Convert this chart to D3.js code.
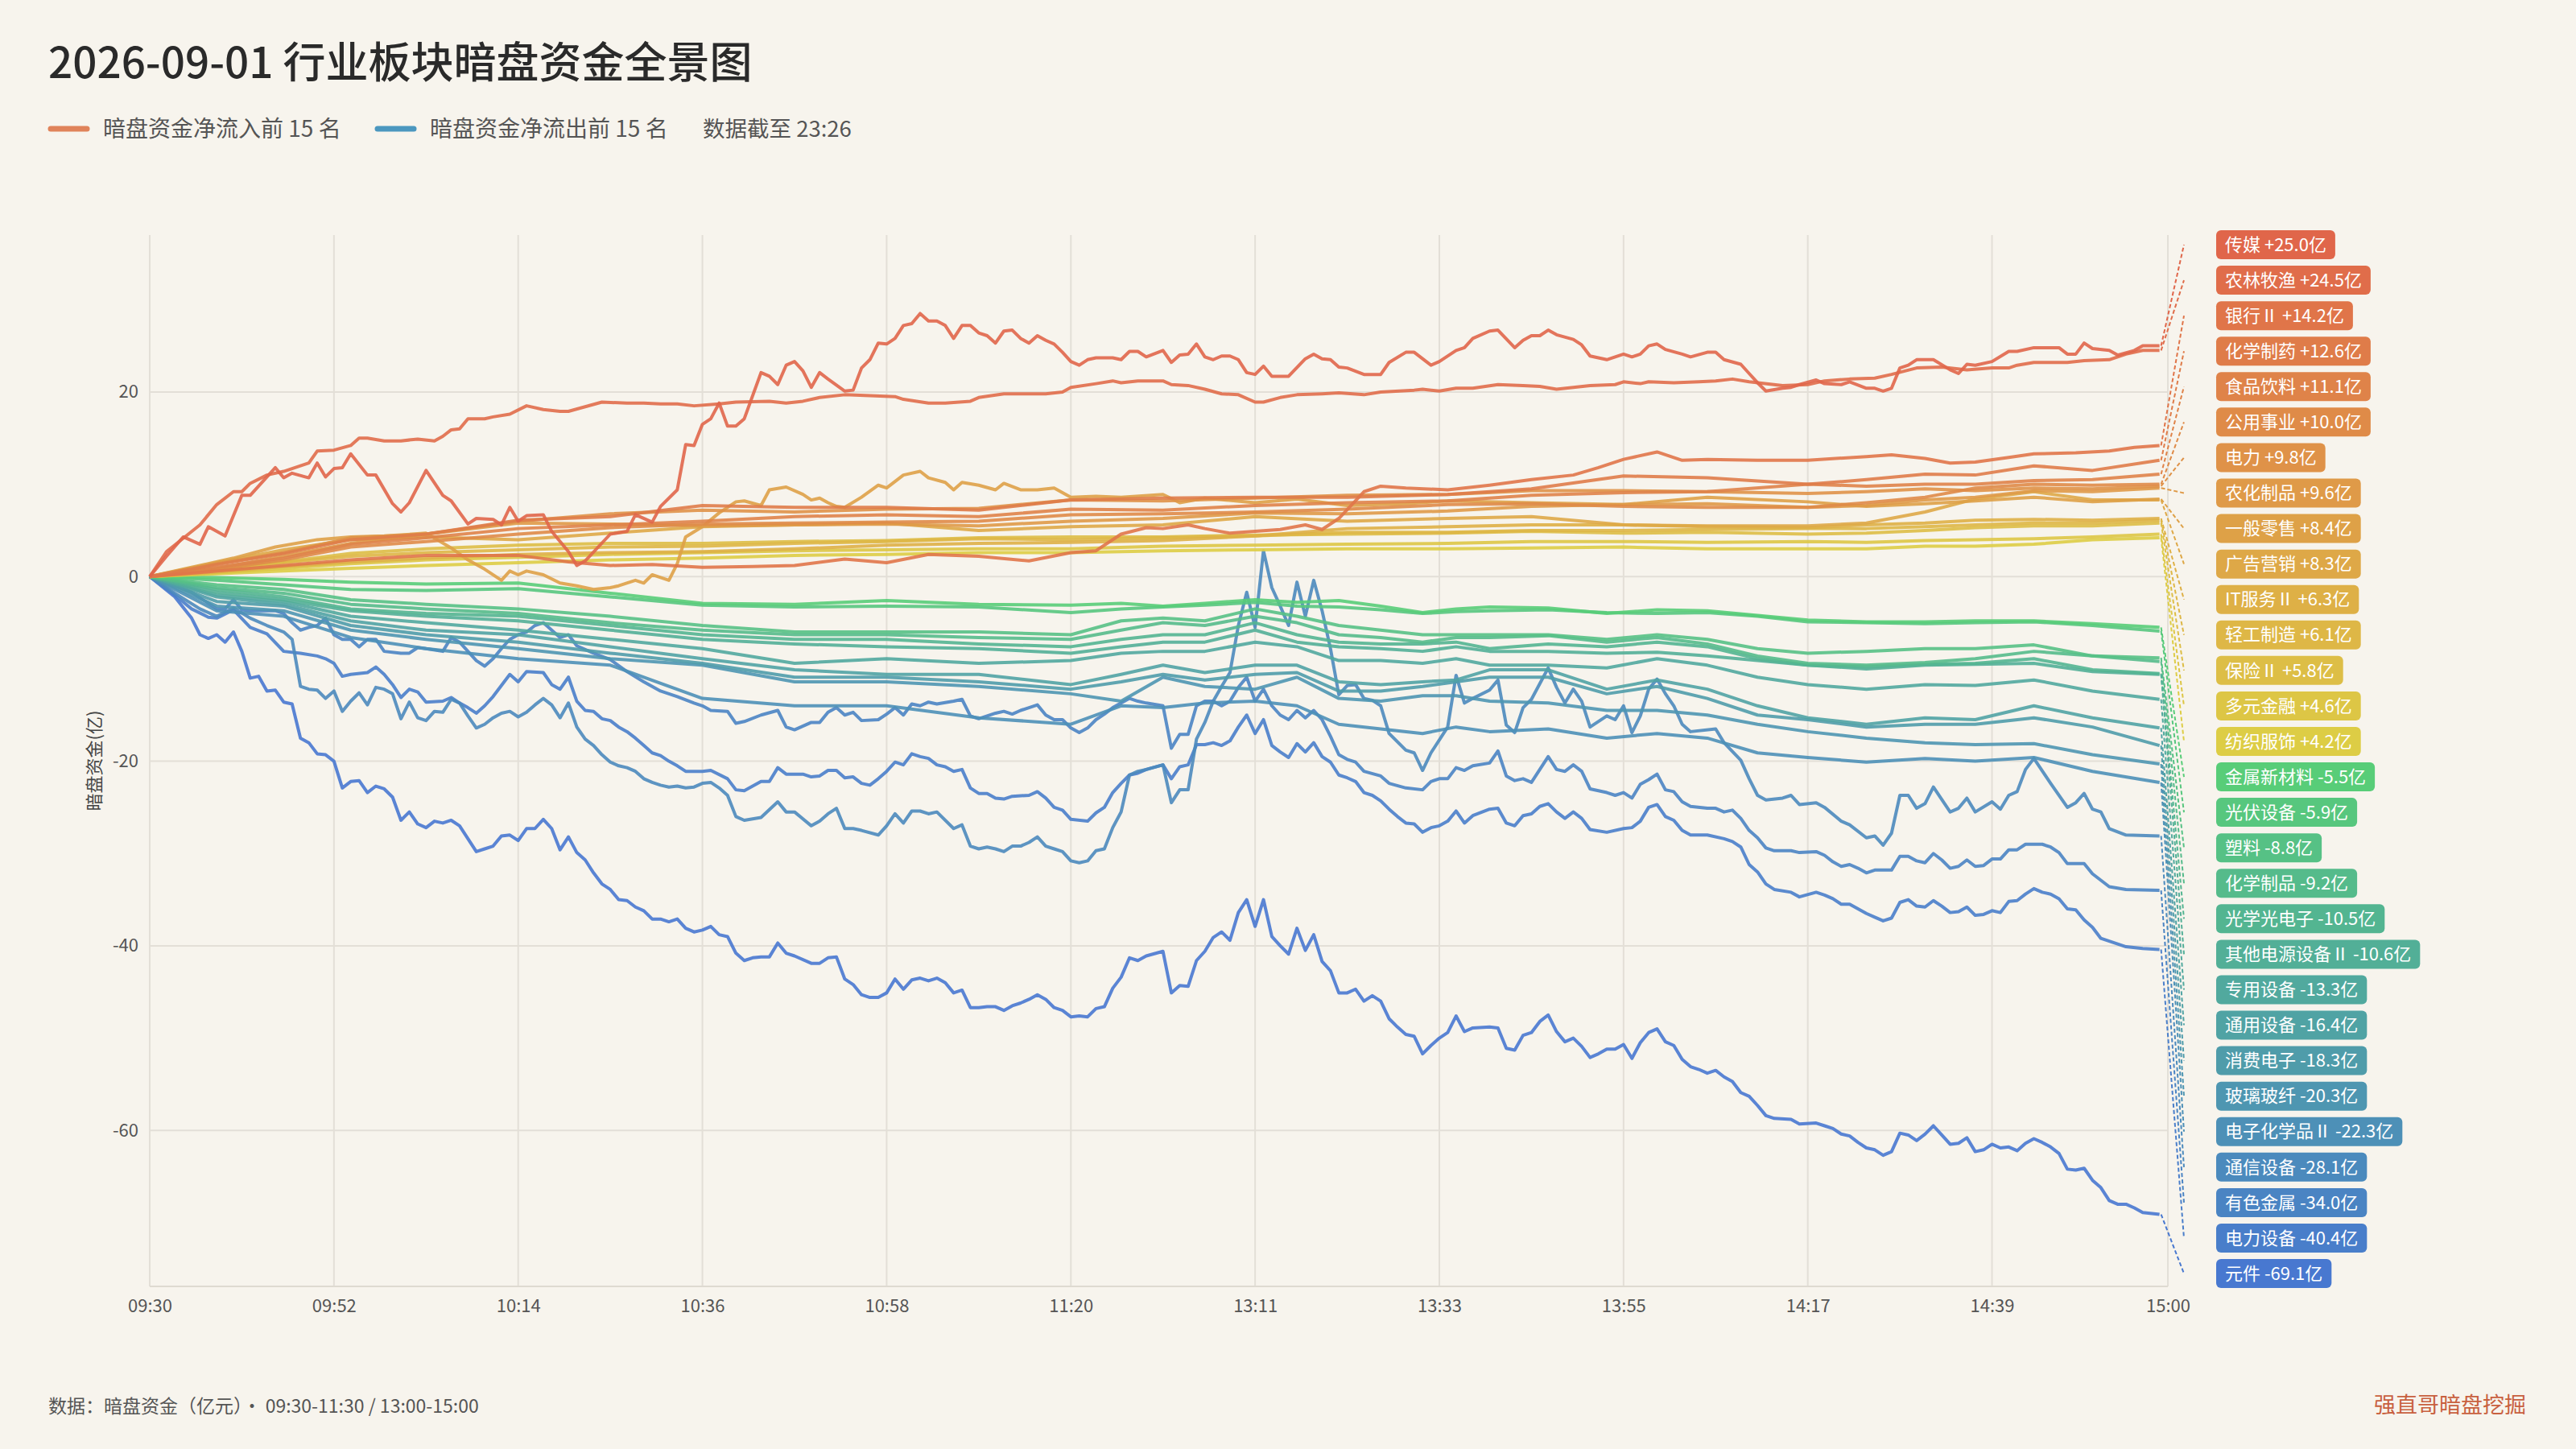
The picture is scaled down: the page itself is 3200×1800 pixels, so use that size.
<!DOCTYPE html>
<html>
<head>
<meta charset="utf-8">
<script src="https://cdn.jsdelivr.net/npm/d3@7"></script>
<style>
html, body { margin: 0; padding: 0; background: #f7f4ed; }
svg { display: block; font-family: "Noto Sans CJK SC", "Noto Sans", sans-serif; }
</style>
</head>
<body>
<svg id="chart" width="3200" height="1800"></svg>
<script>
// ---- data ----
const sectors = ["传媒","农林牧渔","银行Ⅱ","化学制药","食品饮料","公用事业","电力","农化制品","一般零售","广告营销","IT服务Ⅱ","轻工制造","保险Ⅱ","多元金融","纺织服饰",
  "金属新材料","光伏设备","塑料","化学制品","光学光电子","其他电源设备Ⅱ","专用设备","通用设备","消费电子","玻璃玻纤","电子化学品Ⅱ","通信设备","有色金属","电力设备","元件"];
const finalValues = [25.0,24.5,14.2,12.6,11.1,10.0,9.8,9.6,8.4,8.3,6.3,6.1,5.8,4.6,4.2,
  -5.5,-5.9,-8.8,-9.2,-10.5,-10.6,-13.3,-16.4,-18.3,-20.3,-22.3,-28.1,-34.0,-40.4,-69.1];

const sessions = [["09:30","11:30"],["13:00","15:00"]];
const xTickIdx = [0,22,44,66,88,110,132,154,176,198,220,241];
const yTicks = [-60,-40,-20,0,20];

// series read minute-by-minute where the line is distinctive: [minute index, 亿]
const detailSeries = [
["传媒", [[0,0],[2,2.2],[4,4.3],[6,3.5],[7,5.4],[9,4.4],[11,8.8],[12,8.8],[15,11.8],[16,10.7],[17,11.2],[19,10.7],[20,12.3],[21,10.8],[22,11.7],[23,11.8],[24,13.3],[26,11.0],[27,11.0],[29,7.9],[30,7.0],[31,8.0],[33,11.5],[35,8.8],[36,8.2],[38,5.7],[39,6.3],[41,6.2],[42,5.6],[43,7.5],[44,6.0],[45,6.6],[47,6.7],[48,4.9],[50,2.7],[51,1.2],[52,1.7],[55,4.6],[57,4.9],[58,6.7],[60,5.9],[61,7.6],[63,9.4],[64,14.3],[65,14.2],[66,16.5],[67,17.1],[68,18.8],[69,16.3],[70,16.3],[71,17.1],[73,22.1],[74,21.7],[75,20.8],[76,22.9],[77,23.3],[78,22.3],[79,20.5],[80,22.1],[81,21.4],[83,20.1],[84,20.2],[85,22.6],[86,23.5],[87,25.3],[88,25.2],[89,25.8],[90,27.2],[91,27.4],[92,28.5],[93,27.7],[94,27.7],[95,27.2],[96,25.8],[97,27.2],[98,27.2],[99,26.4],[100,26.1],[101,25.3],[102,26.6],[103,26.7],[104,25.8],[105,25.3],[106,26.1],[107,25.6],[108,25.2],[109,24.3],[110,23.3],[111,22.9],[112,23.5],[113,23.7],[115,23.7],[116,23.5],[117,24.4],[118,24.4],[119,23.8],[121,24.5],[122,23.2],[123,24.0],[124,24.1],[125,25.2],[126,23.8],[127,23.5],[128,23.9],[129,23.9],[130,23.5],[131,22.1],[132,21.9],[133,22.8],[134,21.7],[136,21.7],[138,23.6],[139,24.1],[140,23.6],[141,23.5],[142,22.7],[143,22.6],[145,21.9],[147,21.9],[148,23.2],[150,24.3],[151,24.3],[153,22.9],[154,23.3],[156,24.5],[157,24.8],[158,25.8],[160,26.6],[161,26.7],[163,24.8],[164,25.6],[165,26.1],[166,26.1],[167,26.7],[168,26.2],[170,25.7],[171,25.1],[172,23.9],[174,23.5],[176,24.1],[177,23.8],[178,24.1],[179,25.0],[180,25.2],[181,24.6],[183,24.1],[184,23.8],[186,24.3],[187,24.3],[188,23.5],[190,23.0],[191,22.0],[192,21.0],[193,20.1],[195,20.4],[196,20.5],[197,20.8],[199,21.3],[200,20.9],[202,20.8],[203,21.1],[205,20.4],[206,20.4],[207,20.1],[208,20.4],[209,22.6],[210,22.9],[211,23.5],[213,23.5],[215,22.4],[216,22.0],[217,23.0],[218,22.9],[220,23.3],[222,24.4],[223,24.4],[225,24.8],[228,24.8],[229,24.1],[230,24.1],[231,25.3],[232,24.7],[234,24.5],[235,24.0],[237,24.5],[238,25.0],[240,25.0]]],
["农林牧渔", [[0,0],[2,2.7],[6,5.6],[8,7.8],[10,9.2],[11,9.2],[12,10.1],[14,11.0],[16,11.4],[19,12.3],[20,13.6],[22,13.7],[24,14.2],[25,15.0],[26,15.0],[28,14.7],[30,14.7],[32,14.9],[34,14.7],[35,15.2],[36,15.9],[37,16.0],[38,17.1],[40,17.1],[41,17.3],[43,17.6],[45,18.5],[47,18.1],[49,17.9],[50,17.9],[52,18.4],[54,18.9],[57,18.8],[59,18.8],[61,18.7],[63,18.7],[65,18.5],[68,18.7],[70,18.9],[74,19.0],[76,18.8],[78,19.0],[80,19.4],[83,19.7],[86,19.6],[89,19.5],[90,19.2],[93,18.8],[95,18.8],[98,19.0],[99,19.4],[102,19.8],[104,19.8],[107,19.8],[109,20.0],[110,20.5],[113,20.9],[115,21.2],[116,21.0],[118,21.2],[121,21.2],[122,20.8],[124,20.7],[126,20.3],[128,19.8],[130,19.7],[132,18.9],[133,18.9],[135,19.4],[137,19.7],[140,19.8],[142,19.9],[145,19.7],[147,20.0],[151,20.2],[152,20.3],[154,20.1],[156,20.4],[158,20.4],[161,20.8],[164,20.7],[166,20.6],[168,20.3],[170,20.5],[172,20.7],[175,20.8],[176,21.1],[178,20.9],[179,21.1],[182,21.0],[185,21.1],[187,21.2],[189,21.4],[191,21.1],[195,20.7],[198,20.8],[200,21.2],[203,21.4],[206,21.5],[208,21.9],[211,22.6],[214,22.7],[217,22.4],[220,22.6],[222,22.6],[223,22.9],[225,23.2],[229,23.2],[231,23.4],[234,23.5],[236,24.1],[238,24.5],[240,24.5]]],
["银行Ⅱ", [[0,0],[8,0.6],[16,1.2],[24,1.8],[33,2.3],[44,2.3],[50,1.6],[55,1.2],[60,1.3],[66,1.0],[72,1.1],[77,1.2],[83,1.9],[88,1.5],[93,2.4],[99,2.2],[105,1.7],[110,2.6],[113,2.8],[116,4.6],[119,5.3],[121,5.2],[124,5.6],[126,5.2],[129,4.7],[132,4.9],[135,5.1],[138,5.6],[140,5.1],[142,6.3],[145,9.2],[147,9.8],[150,9.6],[155,9.4],[160,9.9],[165,10.5],[170,11.0],[173,11.8],[176,12.7],[180,13.5],[183,12.6],[186,12.7],[192,12.6],[198,12.6],[205,13.0],[208,13.2],[212,12.8],[215,12.3],[218,12.4],[222,12.9],[225,13.3],[230,13.4],[234,13.6],[237,14.0],[240,14.2]]],
["一般零售", [[0,0],[5,1.0],[10,2.0],[15,3.2],[20,4.0],[24,4.3],[28,4.4],[33,4.7],[36,3.1],[38,1.8],[40,0.8],[42,-0.4],[43,0.6],[44,0.2],[45,0.6],[47,0.2],[49,-0.7],[51,-1.0],[53,-1.4],[55,-1.2],[56,-1.0],[58,-0.4],[59,-0.7],[60,0.2],[62,-0.4],[63,1.4],[64,4.3],[66,5.4],[68,6.9],[70,8.1],[71,8.2],[73,7.7],[74,9.4],[76,9.7],[78,8.9],[79,8.3],[80,8.5],[81,8.0],[82,7.6],[83,7.5],[85,8.6],[87,9.9],[88,9.6],[90,11.0],[92,11.4],[93,10.7],[95,10.2],[96,9.4],[97,10.2],[99,9.9],[101,9.4],[102,10.1],[104,9.4],[106,9.4],[108,9.6],[110,8.6],[113,8.7],[116,8.6],[121,8.9],[123,8.0],[126,8.5],[132,8.0],[137,8.4],[143,7.7],[150,7.9],[155,8.2],[165,8.0],[176,7.8],[186,8.6],[198,8.1],[205,7.6],[212,7.9],[218,8.2],[225,8.6],[232,8.1],[240,8.4]]],
["通信设备", [[0,0],[3,-1.8],[6,-3.5],[8,-4.3],[10,-3.4],[12,-4.5],[14,-5.3],[16,-6.0],[17,-6.8],[18,-11.9],[19,-12.2],[20,-12.3],[21,-13.2],[22,-12.4],[23,-14.6],[24,-13.5],[25,-12.6],[26,-13.9],[27,-12.0],[28,-12.2],[29,-12.7],[30,-15.4],[31,-13.6],[32,-15.3],[33,-15.6],[34,-14.6],[35,-14.7],[36,-13.3],[37,-13.7],[38,-15.1],[39,-16.4],[40,-16.0],[41,-15.3],[42,-14.8],[43,-14.6],[44,-15.2],[45,-14.7],[46,-13.9],[47,-13.2],[48,-13.9],[49,-15.3],[50,-13.7],[51,-16.3],[52,-17.6],[53,-18.3],[54,-19.3],[55,-20.1],[56,-20.5],[57,-20.7],[58,-21.1],[59,-21.9],[60,-22.3],[61,-22.6],[62,-22.8],[63,-22.7],[64,-22.9],[65,-22.8],[66,-22.4],[67,-22.3],[68,-22.9],[69,-23.7],[70,-26.0],[71,-26.4],[73,-26.1],[75,-24.4],[76,-25.5],[77,-25.5],[79,-27.0],[80,-26.5],[81,-25.7],[82,-25.1],[83,-27.3],[84,-27.3],[85,-27.5],[87,-28.0],[88,-27.0],[89,-25.7],[90,-26.7],[91,-25.4],[92,-25.4],[93,-25.7],[94,-25.5],[96,-27.3],[97,-26.9],[98,-29.2],[99,-29.5],[100,-29.3],[101,-29.5],[102,-29.8],[103,-29.2],[104,-29.2],[105,-28.8],[106,-28.2],[107,-29.2],[108,-29.5],[109,-29.8],[110,-30.8],[111,-31.0],[112,-30.8],[113,-29.7],[114,-29.5],[115,-27.2],[116,-25.5],[117,-21.5],[118,-21.1],[119,-20.9],[121,-20.4],[122,-24.5],[123,-23.1],[124,-23.1],[125,-17.6],[126,-15.8],[127,-13.5],[128,-11.9],[129,-10.4],[130,-5.3],[131,-1.7],[132,-5.5],[133,2.8],[134,-1.2],[135,-3.2],[136,-5.3],[137,-0.6],[138,-4.3],[139,-0.4],[140,-3.7],[141,-7.8],[142,-12.8],[143,-11.8],[144,-11.7],[145,-13.2],[146,-13.4],[147,-14.0],[148,-17.0],[150,-18.8],[151,-19.1],[152,-21.0],[153,-19.1],[155,-16.3],[156,-10.7],[157,-13.7],[158,-13.2],[160,-12.3],[161,-11.2],[162,-16.1],[163,-16.9],[164,-14.2],[165,-13.3],[167,-9.9],[168,-12.0],[169,-13.7],[170,-12.2],[171,-13.5],[172,-16.3],[174,-15.1],[175,-15.5],[176,-14.0],[177,-16.9],[178,-15.1],[179,-12.2],[180,-11.1],[181,-12.7],[182,-14.0],[183,-16.0],[184,-16.8],[187,-16.5],[188,-18.0],[190,-19.9],[191,-21.9],[192,-23.7],[193,-24.2],[195,-24.0],[196,-23.7],[197,-24.7],[199,-24.5],[200,-25.0],[202,-26.5],[203,-26.9],[205,-28.3],[206,-28.1],[207,-29.1],[208,-27.8],[209,-23.7],[210,-23.7],[211,-25.1],[212,-24.6],[213,-22.8],[215,-25.5],[216,-25.1],[217,-24.0],[218,-25.5],[220,-24.4],[221,-25.2],[222,-23.7],[223,-23.3],[224,-20.9],[225,-19.7],[227,-22.4],[229,-25.0],[230,-24.5],[231,-23.5],[232,-25.2],[233,-25.5],[234,-27.3],[236,-28.0],[240,-28.1]]],
["有色金属", [[0,0],[3,-1.0],[5,-1.7],[7,-2.9],[8,-3.5],[9,-3.5],[10,-2.5],[11,-3.6],[12,-3.7],[15,-3.7],[16,-4.0],[17,-5.0],[18,-5.8],[19,-5.5],[20,-5.3],[21,-4.5],[22,-6.3],[23,-6.8],[24,-6.8],[25,-7.6],[26,-6.8],[27,-6.8],[28,-8.1],[30,-8.3],[31,-8.3],[32,-7.7],[33,-7.8],[35,-8.1],[36,-6.6],[37,-7.1],[38,-8.1],[39,-9.1],[40,-9.7],[41,-8.9],[42,-7.8],[43,-6.8],[44,-6.3],[45,-6.0],[46,-5.3],[47,-5.0],[48,-5.8],[49,-6.6],[50,-6.3],[51,-7.5],[53,-8.3],[55,-9.0],[57,-10.3],[59,-11.4],[61,-12.4],[63,-13.0],[65,-13.7],[66,-14.0],[67,-14.5],[69,-14.6],[70,-15.9],[71,-15.7],[73,-15.0],[75,-14.5],[76,-16.3],[77,-16.6],[79,-15.8],[80,-15.8],[81,-14.7],[82,-14.2],[83,-15.0],[84,-14.7],[85,-15.6],[87,-15.5],[88,-14.9],[89,-14.2],[90,-15.0],[91,-13.8],[92,-14.0],[93,-13.6],[94,-13.8],[96,-13.5],[97,-13.3],[98,-15.1],[99,-15.4],[100,-15.1],[101,-14.8],[102,-14.6],[103,-14.9],[104,-14.5],[105,-14.2],[106,-13.9],[107,-15.0],[108,-15.5],[109,-15.5],[110,-16.4],[111,-16.9],[112,-16.4],[113,-15.5],[114,-14.9],[115,-14.2],[116,-13.7],[117,-13.2],[118,-13.5],[119,-13.7],[121,-14.0],[122,-18.6],[123,-17.1],[124,-17.1],[125,-14.0],[126,-13.5],[127,-13.5],[128,-14.0],[129,-13.5],[130,-12.0],[131,-10.9],[132,-13.5],[133,-12.2],[134,-14.0],[135,-15.0],[136,-15.5],[137,-14.5],[138,-15.3],[139,-14.5],[140,-15.5],[141,-17.3],[142,-19.3],[143,-19.8],[144,-20.1],[145,-21.1],[147,-21.6],[148,-22.4],[150,-22.9],[152,-23.1],[153,-22.2],[154,-21.9],[155,-21.9],[156,-20.7],[157,-21.0],[158,-20.5],[160,-20.2],[161,-18.9],[162,-21.6],[163,-22.1],[164,-21.9],[165,-22.3],[167,-19.5],[168,-20.9],[169,-21.1],[170,-20.4],[171,-21.1],[172,-23.0],[174,-23.4],[175,-23.7],[176,-23.4],[177,-24.0],[178,-22.5],[179,-22.0],[180,-21.4],[181,-23.1],[182,-23.3],[183,-24.4],[184,-24.9],[186,-25.1],[187,-25.1],[188,-25.5],[189,-25.3],[190,-26.2],[191,-27.5],[192,-28.3],[193,-29.4],[194,-29.7],[196,-29.7],[197,-29.9],[199,-29.8],[200,-30.2],[201,-30.9],[202,-31.4],[203,-31.2],[204,-31.6],[205,-32.1],[206,-31.8],[208,-31.8],[209,-30.3],[210,-30.3],[211,-30.8],[212,-31.0],[213,-30.0],[214,-30.7],[215,-31.6],[216,-31.4],[217,-30.7],[218,-31.4],[219,-31.3],[220,-30.6],[221,-30.6],[222,-29.6],[223,-29.6],[224,-29.0],[226,-29.0],[227,-29.3],[228,-29.9],[229,-31.1],[231,-31.1],[232,-32.2],[234,-33.6],[236,-33.9],[240,-34.0]]],
["电力设备", [[0,0],[3,-2.0],[5,-3.5],[7,-4.4],[8,-4.5],[10,-3.6],[12,-5.5],[14,-6.2],[16,-8.1],[18,-8.3],[20,-8.6],[21,-8.9],[22,-9.4],[23,-10.8],[24,-10.6],[26,-10.4],[27,-9.8],[28,-10.6],[29,-11.7],[30,-13.1],[31,-12.2],[32,-12.5],[33,-13.6],[35,-13.5],[36,-13.1],[37,-13.7],[38,-14.2],[39,-14.8],[40,-14.0],[41,-13.0],[42,-11.8],[43,-10.6],[44,-11.4],[45,-10.3],[47,-10.4],[48,-11.7],[49,-12.2],[50,-10.9],[51,-13.5],[52,-14.5],[53,-14.6],[54,-15.4],[55,-15.6],[56,-16.3],[57,-16.8],[58,-17.5],[59,-18.3],[60,-19.1],[61,-19.4],[62,-20.0],[63,-20.5],[64,-21.1],[66,-21.1],[67,-21.0],[69,-21.9],[70,-23.1],[71,-23.2],[73,-22.2],[74,-22.2],[75,-20.7],[76,-21.4],[78,-21.4],[79,-21.7],[80,-21.6],[81,-21.0],[82,-21.0],[83,-21.8],[84,-21.7],[85,-22.4],[86,-22.6],[87,-21.9],[88,-21.1],[89,-20.1],[90,-20.4],[91,-19.2],[92,-19.5],[93,-19.7],[94,-20.4],[95,-20.6],[96,-21.1],[97,-20.9],[98,-22.9],[99,-23.5],[100,-23.5],[101,-24.0],[102,-24.1],[103,-23.8],[105,-23.7],[106,-23.3],[107,-24.0],[108,-25.0],[109,-25.3],[110,-26.3],[112,-26.5],[113,-25.6],[114,-25.0],[115,-23.4],[116,-22.4],[117,-21.5],[118,-21.3],[119,-20.9],[121,-20.4],[122,-21.9],[123,-20.6],[124,-20.4],[125,-18.2],[126,-18.2],[127,-18.0],[128,-18.3],[129,-17.8],[130,-16.3],[131,-15.0],[132,-17.0],[133,-15.5],[134,-18.3],[135,-19.0],[136,-19.6],[137,-18.1],[138,-19.0],[139,-18.0],[140,-19.5],[141,-20.1],[142,-21.5],[143,-21.8],[144,-22.2],[145,-23.4],[146,-23.7],[147,-24.3],[148,-25.2],[149,-26.0],[150,-26.7],[151,-26.8],[152,-27.7],[153,-27.2],[154,-27.0],[155,-26.5],[156,-25.4],[157,-26.7],[158,-25.9],[160,-25.2],[161,-25.1],[162,-26.7],[163,-27.0],[164,-25.9],[165,-25.7],[166,-24.9],[167,-24.6],[168,-25.5],[169,-26.2],[170,-25.5],[171,-26.2],[172,-27.4],[174,-27.7],[176,-27.3],[177,-27.2],[178,-26.5],[179,-25.0],[180,-24.7],[181,-26.0],[182,-26.4],[183,-27.5],[184,-28.0],[186,-28.0],[188,-28.4],[189,-28.7],[190,-29.3],[191,-31.2],[192,-32.0],[193,-33.3],[194,-33.9],[196,-34.2],[197,-34.7],[199,-34.2],[200,-34.5],[201,-34.9],[202,-35.5],[203,-35.5],[204,-36.0],[205,-36.5],[206,-36.9],[207,-37.3],[208,-37.0],[209,-35.3],[210,-35.0],[211,-35.7],[212,-35.8],[213,-35.1],[214,-35.7],[215,-36.4],[216,-36.3],[217,-35.8],[218,-36.7],[219,-36.6],[220,-36.2],[221,-36.4],[222,-35.2],[223,-35.1],[224,-34.4],[225,-33.8],[226,-34.2],[227,-34.4],[228,-34.9],[229,-36.0],[230,-36.1],[231,-37.2],[232,-38.0],[233,-39.2],[234,-39.5],[236,-40.1],[238,-40.3],[240,-40.4]]],
["元件", [[0,0],[3,-2.2],[5,-4.5],[6,-6.3],[7,-6.7],[8,-6.3],[9,-7.1],[10,-6.0],[11,-8.1],[12,-11.0],[13,-10.8],[14,-12.4],[15,-12.3],[16,-13.6],[17,-13.8],[18,-17.5],[19,-18.0],[20,-19.2],[21,-19.3],[22,-20.0],[23,-22.9],[24,-22.2],[25,-22.1],[26,-23.4],[27,-22.7],[28,-23.0],[29,-23.9],[30,-26.4],[31,-25.5],[32,-26.8],[33,-27.2],[34,-26.5],[35,-26.7],[36,-26.4],[37,-27.0],[38,-28.4],[39,-29.8],[40,-29.5],[41,-29.2],[42,-28.1],[43,-28.0],[44,-28.6],[45,-27.3],[46,-27.3],[47,-26.3],[48,-27.3],[49,-29.6],[50,-28.2],[51,-29.9],[52,-30.7],[53,-32.1],[54,-33.3],[55,-33.9],[56,-35.0],[57,-35.1],[58,-35.8],[59,-36.2],[60,-37.1],[61,-37.1],[62,-37.4],[63,-37.1],[64,-38.1],[65,-38.5],[66,-38.3],[67,-37.9],[68,-38.8],[69,-39.0],[70,-40.8],[71,-41.6],[72,-41.3],[73,-41.2],[74,-41.2],[75,-39.7],[76,-40.8],[77,-41.1],[79,-41.9],[80,-41.9],[81,-41.3],[82,-41.2],[83,-43.6],[84,-44.2],[85,-45.3],[86,-45.6],[87,-45.6],[88,-45.1],[89,-43.6],[90,-44.7],[91,-43.7],[92,-43.5],[93,-43.8],[94,-43.5],[95,-44.0],[96,-45.1],[97,-44.8],[98,-46.7],[99,-46.7],[100,-46.6],[101,-46.6],[102,-47.0],[103,-46.5],[104,-46.2],[105,-45.8],[106,-45.3],[107,-45.8],[108,-46.7],[109,-47.0],[110,-47.7],[111,-47.6],[112,-47.7],[113,-46.8],[114,-46.6],[115,-44.6],[116,-43.4],[117,-41.3],[118,-41.6],[119,-41.1],[121,-40.6],[122,-45.1],[123,-44.3],[124,-44.4],[125,-41.6],[126,-40.6],[127,-39.1],[128,-38.5],[129,-39.4],[130,-36.4],[131,-35.0],[132,-37.9],[133,-35.0],[134,-39.0],[135,-40.0],[136,-40.9],[137,-38.1],[138,-40.5],[139,-38.8],[140,-41.7],[141,-42.7],[142,-45.1],[143,-45.1],[144,-44.7],[145,-46.0],[146,-45.4],[147,-46.0],[148,-47.9],[149,-48.8],[150,-49.6],[151,-49.8],[152,-51.7],[153,-50.8],[154,-50.0],[155,-49.4],[156,-47.6],[157,-49.3],[158,-48.9],[160,-48.8],[161,-48.9],[162,-51.1],[163,-51.3],[164,-49.7],[165,-49.4],[166,-48.2],[167,-47.5],[168,-49.3],[169,-50.4],[170,-50.0],[171,-50.9],[172,-52.1],[173,-51.7],[174,-51.2],[175,-51.2],[176,-50.7],[177,-52.2],[178,-50.5],[179,-49.4],[180,-49.0],[181,-50.4],[182,-50.8],[183,-52.3],[184,-53.1],[185,-53.4],[186,-53.8],[187,-53.5],[188,-54.2],[189,-54.7],[190,-55.9],[191,-56.3],[192,-57.3],[193,-58.4],[194,-58.7],[196,-58.8],[197,-59.3],[199,-59.2],[200,-59.5],[201,-59.8],[202,-60.4],[203,-60.6],[204,-61.3],[205,-61.9],[206,-62.1],[207,-62.7],[208,-62.3],[209,-60.3],[210,-60.5],[211,-61.1],[212,-60.4],[213,-59.5],[214,-60.5],[215,-61.5],[216,-61.4],[217,-60.8],[218,-62.3],[219,-62.1],[220,-61.5],[221,-61.9],[222,-61.8],[223,-62.2],[224,-61.4],[225,-60.9],[226,-61.3],[227,-61.8],[228,-62.5],[229,-64.2],[230,-64.3],[231,-64.1],[232,-65.4],[233,-66.2],[234,-67.6],[235,-68.0],[236,-68.0],[237,-68.4],[238,-68.9],[240,-69.1]]]
];

// the calmer inflow lines, read at these minute indices
const inKeyIdx = [0,8,16,24,33,44,55,66,77,88,99,110,121,132,143,155,165,176,186,198,205,212,218,225,232,240];
const inflowKeyed = [
["化学制药", [0,1.3,2.5,4.0,4.6,6.1,6.5,7.7,7.5,7.5,7.2,8.3,8.5,8.6,8.6,8.9,9.5,10.9,10.7,10.0,10.5,11.1,11.0,12.0,11.5,12.6]],
["食品饮料", [0,1.0,2.0,3.5,4.2,5.2,5.6,6.0,6.5,6.7,6.5,7.3,7.2,7.7,8.0,8.2,8.8,9.1,9.2,10.0,9.8,10.0,10.0,10.4,10.5,11.1]],
["公用事业", [0,0.8,1.8,3.2,3.8,4.6,5.3,5.7,5.8,5.9,6.0,6.7,6.8,7.0,7.3,7.8,7.9,7.6,7.5,7.5,8.0,8.6,9.6,10.0,9.9,10.0]],
["电力",     [0,1.4,2.6,4.2,4.6,6.0,6.8,7.2,7.0,7.3,7.4,8.3,8.2,8.5,8.8,8.9,9.3,9.3,9.2,9.0,9.2,9.5,9.3,9.6,9.5,9.8]],
["农化制品", [0,0.9,2.2,3.6,4.6,5.8,5.7,5.5,5.6,5.7,5.5,6.0,6.3,6.9,6.8,7.1,7.6,7.8,7.9,7.5,7.7,8.3,8.6,9.3,9.2,9.6]],
["广告营销", [0,1.5,2.9,4.0,4.3,4.0,4.7,5.4,5.6,5.8,5.0,5.4,5.6,6.5,6.0,6.3,6.5,5.6,5.5,5.5,5.8,7.0,8.4,9.2,8.3,8.3]],
["IT服务Ⅱ", [0,0.5,1.1,1.6,2.0,2.4,2.6,2.7,3.0,3.4,3.6,3.7,3.9,4.4,5.2,5.4,5.6,5.6,5.4,5.3,5.6,5.8,6.1,6.2,6.1,6.3]],
["轻工制造", [0,0.7,1.5,2.2,2.6,2.9,3.2,3.3,3.6,3.8,4.1,4.0,4.2,4.4,4.8,4.8,5.0,5.0,5.1,5.2,5.2,5.4,5.6,5.8,5.8,6.1]],
["保险Ⅱ",   [0,0.8,1.6,2.5,3.0,3.4,3.6,3.6,3.8,3.9,4.2,4.3,4.3,4.5,4.6,4.7,4.9,4.7,4.8,4.6,4.7,5.0,5.3,5.5,5.5,5.8]],
["多元金融", [0,0.4,0.9,1.4,1.8,2.1,2.4,2.6,2.8,2.9,3.0,3.0,3.3,3.4,3.5,3.6,3.8,3.8,3.7,3.8,3.7,3.9,4.0,4.1,4.3,4.6]],
["纺织服饰", [0,0.3,0.6,0.9,1.2,1.5,1.8,2.0,2.3,2.4,2.6,2.6,2.8,2.9,3.0,3.0,3.1,3.2,3.0,3.0,3.0,3.3,3.3,3.5,4.0,4.2]]
];

// the green/teal outflow bundle, read at these minute indices
const outKeyIdx = [0,8,16,24,33,44,55,66,77,88,99,110,116,121,126,132,137,142,147,152,156,160,167,174,180,186,192,198,205,212,218,225,232,240];
const outflowKeyed = [
["金属新材料", [0,-0.1,-0.3,-0.6,-0.8,-0.7,-1.8,-2.9,-3.0,-2.6,-3.0,-3.1,-2.9,-3.2,-2.9,-2.5,-2.8,-2.6,-3.2,-3.9,-3.5,-3.3,-3.4,-4.0,-3.6,-3.7,-4.2,-4.7,-4.9,-4.9,-4.8,-4.8,-5.1,-5.5]],
["光伏设备",   [0,-0.4,-0.9,-1.4,-1.5,-1.3,-2.2,-3.1,-3.3,-3.2,-3.3,-3.9,-3.5,-3.3,-3.1,-2.8,-3.2,-3.3,-3.6,-4.0,-3.8,-3.7,-3.6,-3.9,-4.0,-3.9,-4.3,-4.9,-5.0,-5.1,-5.0,-4.9,-5.3,-5.9]],
["塑料",       [0,-0.9,-1.4,-2.5,-3.0,-3.5,-4.3,-5.3,-6.0,-6.0,-6.0,-6.3,-4.8,-4.5,-4.8,-3.5,-4.3,-5.3,-5.8,-6.3,-6.3,-6.3,-6.3,-6.8,-6.3,-6.8,-7.8,-8.3,-8.1,-7.8,-7.8,-7.4,-8.6,-8.8]],
["化学制品",   [0,-1.2,-1.8,-3.0,-3.5,-4.0,-5.0,-5.8,-6.3,-6.3,-6.6,-6.8,-5.8,-5.0,-5.3,-4.3,-5.0,-6.3,-6.6,-7.1,-6.6,-6.6,-6.4,-7.1,-6.6,-7.3,-8.6,-9.4,-9.6,-9.3,-8.9,-8.1,-8.6,-9.2]],
["光学光电子", [0,-1.4,-2.2,-3.5,-4.0,-4.3,-5.3,-6.3,-6.8,-6.8,-7.3,-7.6,-6.8,-6.3,-6.3,-5.0,-6.3,-7.1,-7.3,-7.3,-7.1,-7.8,-7.3,-7.6,-7.1,-7.6,-8.9,-9.6,-9.8,-9.5,-9.4,-8.9,-10.1,-10.5]],
["其他电源设备Ⅱ", [0,-1.7,-2.5,-3.7,-4.3,-4.8,-5.8,-6.8,-7.3,-7.6,-7.8,-8.3,-7.6,-7.1,-7.1,-5.8,-7.1,-7.6,-7.8,-8.1,-7.6,-8.1,-8.1,-8.3,-8.2,-8.6,-9.1,-9.6,-10.0,-9.6,-9.5,-9.4,-10.3,-10.6]],
["专用设备",   [0,-2.0,-2.7,-4.3,-5.0,-5.8,-6.8,-7.8,-9.4,-8.9,-9.4,-9.1,-8.3,-8.1,-8.1,-7.1,-7.6,-9.1,-9.1,-9.4,-8.9,-9.6,-9.6,-9.9,-8.9,-9.6,-10.9,-11.7,-12.2,-11.7,-11.8,-11.2,-12.4,-13.3]],
["通用设备",   [0,-2.2,-3.0,-4.8,-5.8,-6.3,-7.6,-8.9,-10.1,-10.6,-10.6,-11.7,-10.6,-9.6,-10.4,-9.6,-9.6,-11.4,-11.7,-11.4,-11.2,-10.1,-10.1,-12.2,-11.2,-12.2,-14.0,-15.3,-16.0,-15.3,-15.5,-14.0,-15.3,-16.4]],
["消费电子",   [0,-2.7,-3.2,-5.3,-6.3,-7.1,-8.3,-9.4,-10.9,-10.9,-11.4,-12.2,-11.4,-10.6,-11.2,-10.6,-10.4,-12.4,-12.4,-11.9,-11.4,-10.9,-10.9,-12.7,-11.9,-13.2,-15.0,-15.5,-16.3,-16.0,-16.0,-15.3,-16.3,-18.3]],
["玻璃玻纤",   [0,-3.2,-3.7,-5.8,-6.8,-7.8,-8.9,-9.6,-11.4,-11.4,-11.9,-12.7,-13.5,-10.9,-11.9,-12.2,-10.9,-13.2,-13.5,-12.9,-12.9,-13.5,-13.7,-14.5,-14.5,-15.0,-16.0,-16.8,-17.5,-18.0,-18.2,-18.1,-19.3,-20.3]],
["电子化学品Ⅱ", [0,-3.7,-4.3,-6.6,-7.8,-8.9,-9.6,-13.2,-14.0,-14.0,-15.3,-16.0,-14.0,-14.2,-13.7,-13.5,-14.0,-16.0,-16.5,-17.0,-16.3,-16.8,-16.5,-17.5,-17.0,-17.5,-19.1,-19.6,-20.1,-19.7,-20.0,-19.6,-21.1,-22.3]]
];

// ---- build ----
function minuteLabels(a, b) {
  const toM = s => +s.slice(0, 2) * 60 + +s.slice(3);
  const out = [];
  for (let m = toM(a); m <= toM(b); m++) {
    out.push(String(Math.floor(m / 60)).padStart(2, "0") + ":" + String(m % 60).padStart(2, "0"));
  }
  return out;
}
const times = sessions.flatMap(s => minuteLabels(s[0], s[1]));

const pointsBySector = new Map();
detailSeries.forEach(([n, pts]) => pointsBySector.set(n, pts));
inflowKeyed.forEach(([n, vals]) => pointsBySector.set(n, inKeyIdx.map((i, k) => [i, vals[k]])));
outflowKeyed.forEach(([n, vals]) => pointsBySector.set(n, outKeyIdx.map((i, k) => [i, vals[k]])));

const inColor = d3.interpolateRgb("#e0664a", "#ddcd45");
const outColor = d3.interpolateRgb("#58cd78", "#4878d0");
const colorOf = k => k < 15 ? inColor(k / 14) : outColor((k - 15) / 14);

const svg = d3.select("#chart");
const W = 3200, H = 1800;
const plot = {left: 186, right: 2693, top: 292, bottom: 1598};

svg.append("rect").attr("width", W).attr("height", H).attr("fill", "#f7f4ed");

const x = d3.scaleLinear().domain([0, times.length - 1]).range([plot.left, plot.right]);
const y = d3.scaleLinear().domain([-76.9, 37.0]).range([plot.bottom, plot.top]);

// grid
const grid = svg.append("g");
grid.selectAll("line.v").data(xTickIdx).join("line")
  .attr("x1", d => x(d)).attr("x2", d => x(d))
  .attr("y1", plot.top).attr("y2", plot.bottom)
  .attr("stroke", "#e3dfd7").attr("stroke-width", 2);
grid.selectAll("line.h").data(yTicks).join("line")
  .attr("x1", plot.left).attr("x2", plot.right)
  .attr("y1", d => y(d)).attr("y2", d => y(d))
  .attr("stroke", "#e3dfd7").attr("stroke-width", 2);
grid.append("line").attr("x1", plot.left).attr("x2", plot.right)
  .attr("y1", plot.bottom).attr("y2", plot.bottom)
  .attr("stroke", "#dedad1").attr("stroke-width", 2);

// axes labels
const yAxis = d3.axisLeft(y).tickValues(yTicks).tickFormat(d => String(d)).tickSize(0).tickPadding(14);
svg.append("g").attr("transform", `translate(${plot.left},0)`).call(yAxis)
  .call(g => g.select(".domain").remove())
  .call(g => g.selectAll("text").attr("font-size", 22).attr("fill", "#555")
    .attr("font-family", "'Noto Sans CJK SC', 'Noto Sans', sans-serif"));

const xAxis = d3.axisBottom(x).tickValues(xTickIdx).tickFormat(i => times[i]).tickSize(0).tickPadding(16);
svg.append("g").attr("transform", `translate(0,${plot.bottom})`).call(xAxis)
  .call(g => g.select(".domain").remove())
  .call(g => g.selectAll("text").attr("font-size", 22).attr("fill", "#555")
    .attr("font-family", "'Noto Sans CJK SC', 'Noto Sans', sans-serif"));

svg.append("text").attr("transform", `translate(117,${(plot.top + plot.bottom) / 2}) rotate(-90)`)
  .attr("text-anchor", "middle").attr("dy", "0.35em")
  .attr("font-size", 22).attr("fill", "#444").text("暗盘资金(亿)");

// lines
const line = d3.line().x(d => x(d[0])).y(d => y(d[1]));
const order = d3.range(sectors.length).reverse();
svg.append("g").selectAll("path").data(order).join("path")
  .attr("d", k => line(pointsBySector.get(sectors[k])))
  .attr("fill", "none")
  .attr("stroke", k => colorOf(k))
  .attr("stroke-width", 4)
  .attr("stroke-linejoin", "round")
  .attr("stroke-opacity", 0.9);

// end labels
const labelTop = 304, labelStep = 44.07, labelX = 2753, elbowX = 2713;
const lastIdx = 240;
const conn = svg.append("g");
const labels = svg.append("g");
sectors.forEach((name, k) => {
  const ly = labelTop + labelStep * k;
  const pts = pointsBySector.get(name);
  const endV = pts[pts.length - 1][1];
  conn.append("line")
    .attr("x1", x(lastIdx) + 2).attr("y1", y(endV))
    .attr("x2", elbowX).attr("y2", ly)
    .attr("stroke", colorOf(k)).attr("stroke-width", 2)
    .attr("stroke-dasharray", "5,3");
  const v = finalValues[k];
  const txt = `${name} ${v > 0 ? "+" : ""}${v.toFixed(1)}亿`;
  const g = labels.append("g");
  const rect = g.append("rect").attr("x", labelX).attr("y", ly - 18).attr("height", 36)
    .attr("rx", 6).attr("fill", colorOf(k));
  const t = g.append("text").attr("x", labelX + 11).attr("y", ly).attr("dy", "0.35em")
    .attr("font-size", 22).attr("fill", "#fff").text(txt);
  rect.attr("width", t.node().getComputedTextLength() + 22);
});

// title & legend
svg.append("text").attr("x", 60).attr("y", 97).attr("font-size", 53).attr("font-weight", 500)
  .attr("fill", "#2a2a2a").text("2026-09-01 行业板块暗盘资金全景图");

const legendItems = [
  {x: 60, color: "#e0835a", label: "暗盘资金净流入前 15 名"},
  {x: 466, color: "#4b97bf", label: "暗盘资金净流出前 15 名"}
];
const lg = svg.append("g");
legendItems.forEach(it => {
  lg.append("line").attr("x1", it.x + 3).attr("x2", it.x + 48).attr("y1", 160).attr("y2", 160)
    .attr("stroke", it.color).attr("stroke-width", 7).attr("stroke-linecap", "round");
  lg.append("text").attr("x", it.x + 68).attr("y", 160).attr("dy", "0.35em")
    .attr("font-size", 28).attr("fill", "#555").text(it.label);
});
lg.append("text").attr("x", 873).attr("y", 160).attr("dy", "0.35em")
  .attr("font-size", 27.5).attr("fill", "#555").text("数据截至 23:26");

// footer
svg.append("text").attr("x", 60).attr("y", 1747).attr("dy", "0.35em")
  .attr("font-size", 23).attr("fill", "#555")
  .text("数据：暗盘资金（亿元）· 09:30-11:30 / 13:00-15:00");
svg.append("text").attr("x", 3138).attr("y", 1746).attr("dy", "0.35em")
  .attr("text-anchor", "end").attr("font-size", 27).attr("fill", "#c8603f")
  .text("强直哥暗盘挖掘");
</script>
</body>
</html>
